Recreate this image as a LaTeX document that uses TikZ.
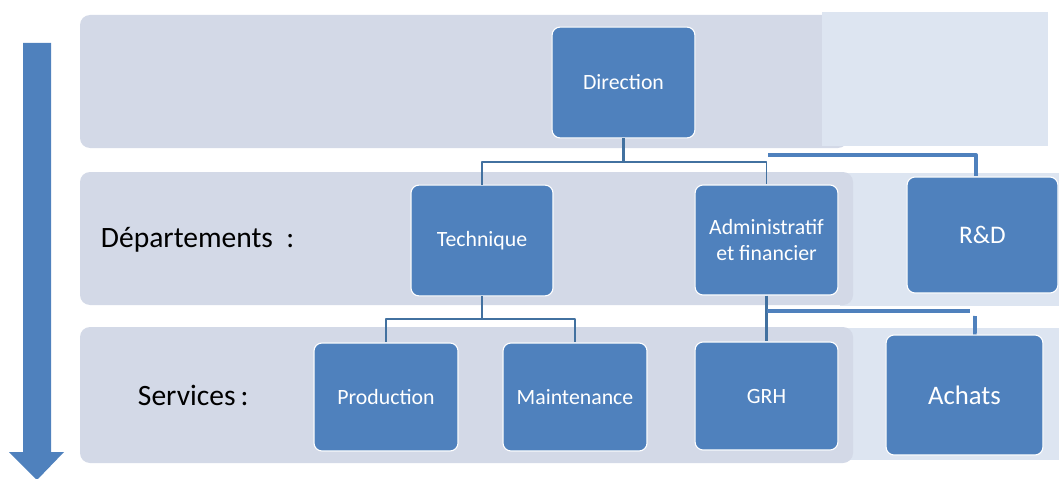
\documentclass[tikz,border=0pt]{standalone}
\usepackage{fontspec}
\setmainfont{Carlito}
\definecolor{band}{RGB}{211,217,231}
\definecolor{bandlight}{RGB}{221,229,241}
\definecolor{boxblue}{RGB}{79,129,189}
\definecolor{linkblue}{RGB}{66,113,160}
\tikzset{
  box/.style={draw=white,line width=0.8pt,fill=boxblue,rounded corners=0.2cm,
    text=white,align=center,font=\fontsize{15.5}{19}\selectfont},
  link/.style={color=linkblue,line width=1pt},
  thicklink/.style={color=boxblue,line width=2.6pt}
}
\begin{document}
\begin{tikzpicture}[line join=round,x=0.025cm,y=-0.025cm]
\useasboundingbox (0,0) rectangle (1059,479);
% bands
\fill[band,rounded corners=0.25cm] (80,15) rectangle (848,148);
\fill[bandlight] (822,12) rectangle (1048,146);
\fill[bandlight] (840,173) rectangle (1059,306);
\fill[band,rounded corners=0.25cm] (80,172) rectangle (853,305);
\fill[bandlight] (840,328) rectangle (1059,460);
\fill[band,rounded corners=0.25cm] (80,327) rectangle (853,463);
% arrow
\fill[color=boxblue] (23,43) -- (51,43) -- (51,452) -- (64,452) -- (37,480) -- (9,452) -- (23,452) -- cycle;
% labels
\node[anchor=west,font=\fontsize{21}{25}\selectfont] (dep) at (96,240) {Départements\ \ :};
\node[anchor=west,font=\fontsize{21}{25}\selectfont] (serv) at (133,395) {Services\,:};
% boxes
\node[box,minimum width=3.57cm,minimum height=2.77cm] (dir) at (623.5,82.5) {Direction};
\node[box,minimum width=3.55cm,minimum height=2.77cm] (tech) at (482,240.5) {Technique};
\node[box,minimum width=3.57cm,minimum height=2.75cm] (admin) at (766.5,240) {Administratif\\et financier};
\node[box,minimum width=3.77cm,minimum height=2.9cm,font=\fontsize{18}{22}\selectfont] (rd) at (982.5,235) {R\&D};
\node[box,minimum width=3.6cm,minimum height=2.7cm] (prod) at (386,397) {Production};
\node[box,minimum width=3.6cm,minimum height=2.7cm] (maint) at (575,397) {Maintenance};
\node[box,minimum width=3.57cm,minimum height=2.7cm] (grh) at (766.5,396) {GRH};
\node[box,minimum width=3.92cm,minimum height=3cm,font=\fontsize{19}{23}\selectfont] (achats) at (964.5,395) {Achats};
% connectors
\coordinate (j1) at (623.5,162);
\coordinate (j2) at (482,319);
\coordinate (rdstart) at (768,155);
\coordinate (acstart) at (766.5,311);
\coordinate (acend) at (970,311);
\coordinate (actop) at (975,316);
\draw[link,line width=2pt] (dir.south) -- (j1);
\draw[link] (j1) -| (tech.north);
\draw[link] (j1) -| (admin.north);
\draw[link] (tech.south) -- (j2) -| (prod.north);
\draw[link] (j2) -| (maint.north);
\draw[thicklink] (rdstart) -| ([xshift=-0.16cm]rd.north);
\draw[link,line width=2pt] (admin.south) -- (grh.north);
\draw[thicklink] (acstart) -- (acend);
\draw[thicklink] (actop) -- ([xshift=0.26cm]achats.north);
\end{tikzpicture}
\end{document}
